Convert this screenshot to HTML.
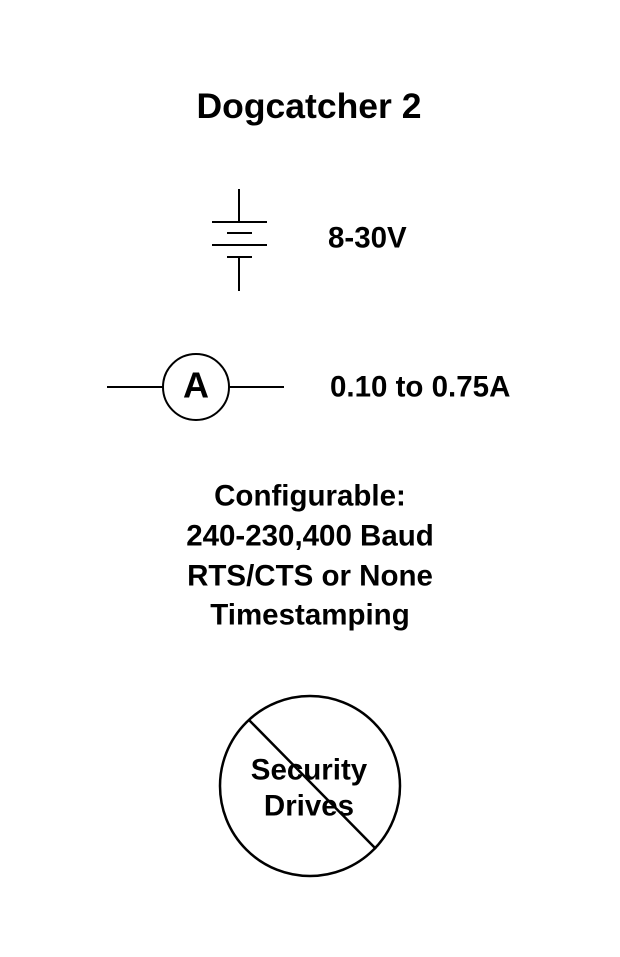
<!DOCTYPE html>
<html><head><meta charset="utf-8"><style>body{margin:0;background:#fff}</style></head><body>
<svg width="620" height="952" xmlns="http://www.w3.org/2000/svg" font-family="Liberation Sans, Arial, sans-serif" font-weight="bold" fill="#000">
<rect width="620" height="952" fill="#fff"/>
<text x="309" y="106" font-size="35.5" text-anchor="middle" dominant-baseline="central">Dogcatcher 2</text>
<g stroke="#000" stroke-width="2">
<line x1="239" y1="189" x2="239" y2="222"/>
<line x1="212" y1="222" x2="267" y2="222"/>
<line x1="227" y1="233" x2="252" y2="233"/>
<line x1="212" y1="245" x2="267" y2="245"/>
<line x1="227" y1="257" x2="252" y2="257"/>
<line x1="239" y1="257" x2="239" y2="291"/>
<line x1="107" y1="387" x2="163" y2="387"/>
<line x1="229" y1="387" x2="284" y2="387"/>
<circle cx="196" cy="387" r="33" fill="none"/>
<circle cx="310" cy="786" r="90" fill="none" stroke-width="2.5"/>
<line x1="249" y1="720" x2="376" y2="849" stroke-width="2.5"/>
</g>
<text x="196" y="385" font-size="36" text-anchor="middle" dominant-baseline="central">A</text>
<text x="328" y="238" font-size="29.5" dominant-baseline="central">8-30V</text>
<text x="330" y="387" font-size="29.5" dominant-baseline="central">0.10 to 0.75A</text>
<g font-size="29.5" text-anchor="middle" dominant-baseline="central">
<text x="310" y="496">Configurable:</text>
<text x="310" y="536">240-230,400 Baud</text>
<text x="310" y="576">RTS/CTS or None</text>
<text x="310" y="615">Timestamping</text>
<text x="309" y="770">Security</text>
<text x="309" y="806">Drives</text>
</g>
</svg>
</body></html>
